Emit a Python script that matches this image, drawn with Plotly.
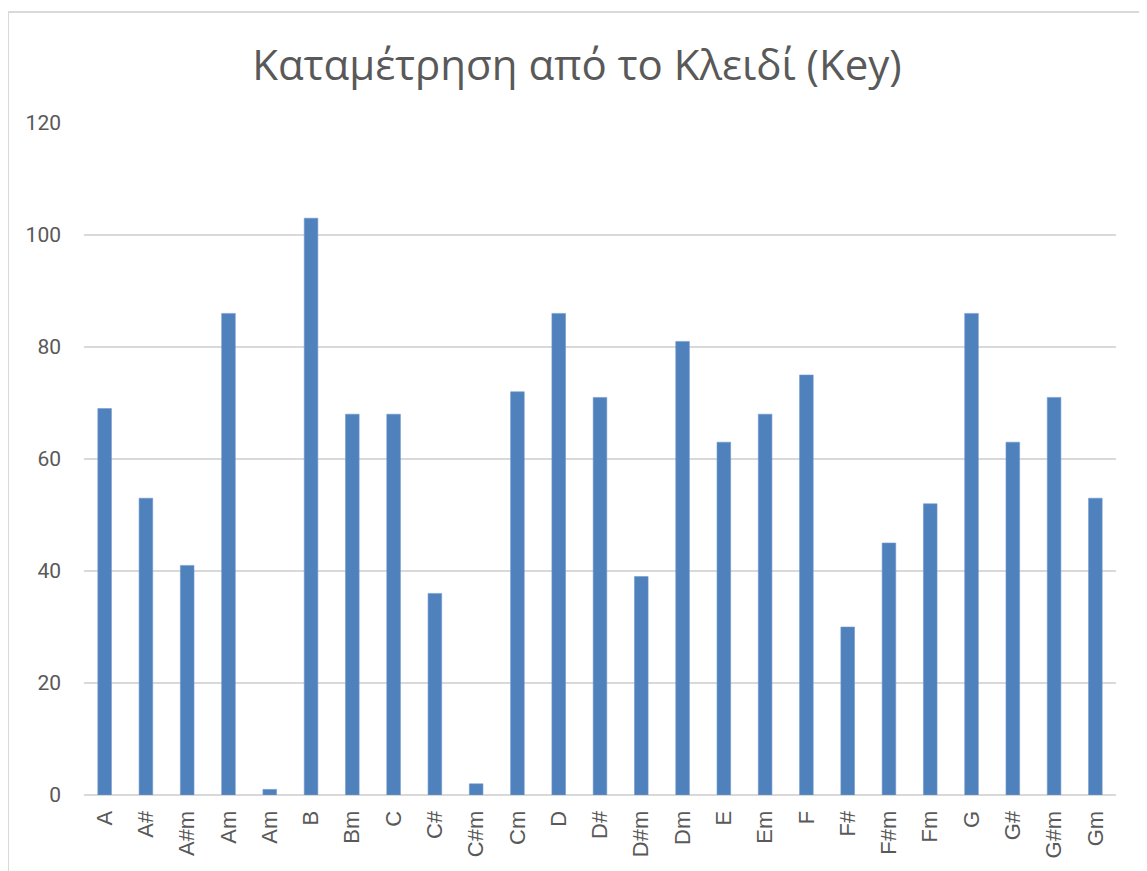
import plotly.graph_objects as go

keys = ["A", "A#", "A#m", "Am", "Am", "B", "Bm", "C", "C#", "C#m", "Cm", "D", "D#",
        "D#m", "Dm", "E", "Em", "F", "F#", "F#m", "Fm", "G", "G#", "G#m", "Gm"]
counts = [69, 53, 41, 86, 1, 103, 68, 68, 36, 2, 72, 86, 71,
          39, 81, 63, 68, 75, 30, 45, 52, 86, 63, 71, 53]
y_ticks = [0, 20, 40, 60, 80, 100, 120]
title_text = "Καταμέτρηση από το Κλειδί (Key)"

positions = list(range(len(keys)))

fig = go.Figure()
fig.add_trace(go.Bar(
    x=positions,
    y=counts,
    marker=dict(color="#4F81BD", line=dict(color="#6F98CC", width=0.6)),
    hoverinfo="x+y",
))

# page body adds an 8px offset; figure coordinates below are screen - 8
OFF = 8
W, H = 1147 - OFF, 871 - OFF
L, T = 84 - OFF, 123 - OFF
plot_right, plot_bottom = 1116 - OFF, 795 - OFF
R, B = W - plot_right, H - plot_bottom
pw, ph = W - L - R, H - T - B

def sx(px):
    return (px - OFF - L) / pw

def sy(py):
    return (H - B - (py - OFF)) / ph

fig.update_layout(
    width=W, height=H,
    margin=dict(l=L, r=R, t=T, b=B, autoexpand=False),
    paper_bgcolor="white",
    plot_bgcolor="white",
    showlegend=False,
    bargap=0.67,
    title=dict(
        text=title_text,
        x=(577 - OFF) / W, xref="container", xanchor="center",
        y=1 - (65 - OFF) / H, yref="container", yanchor="middle",
        font=dict(family="Open Sans, Noto Sans, Arial", size=42, color="#595959"),
    ),
    xaxis=dict(
        tickmode="array",
        tickvals=positions,
        ticktext=keys,
        tickangle=-90,
        range=[-0.5, len(keys) - 0.5],
        showgrid=False,
        zeroline=False,
        showline=False,
        ticks="outside",
        ticklen=6,
        tickcolor="rgba(0,0,0,0)",
        tickfont=dict(family="Liberation Sans, Arial", size=22, color="#595959"),
    ),
    yaxis=dict(
        range=[0, 120],
        tickvals=y_ticks,
        showgrid=True,
        gridcolor="#D9D9D9",
        gridwidth=1.5,
        zeroline=True,
        zerolinecolor="#D9D9D9",
        zerolinewidth=2,
        showline=False,
        ticks="",
        ticklabelstandoff=22,
        tickfont=dict(family="Roboto, Arial", size=21, color="#595959"),
    ),
    shapes=[dict(
        type="rect", xref="paper", yref="paper",
        x0=sx(8), x1=sx(1141),
        y0=sy(920), y1=sy(12),
        line=dict(color="#D9D9D9", width=2),
        fillcolor="rgba(0,0,0,0)",
        layer="below",
    )],
)

fig.write_html("out.html")
